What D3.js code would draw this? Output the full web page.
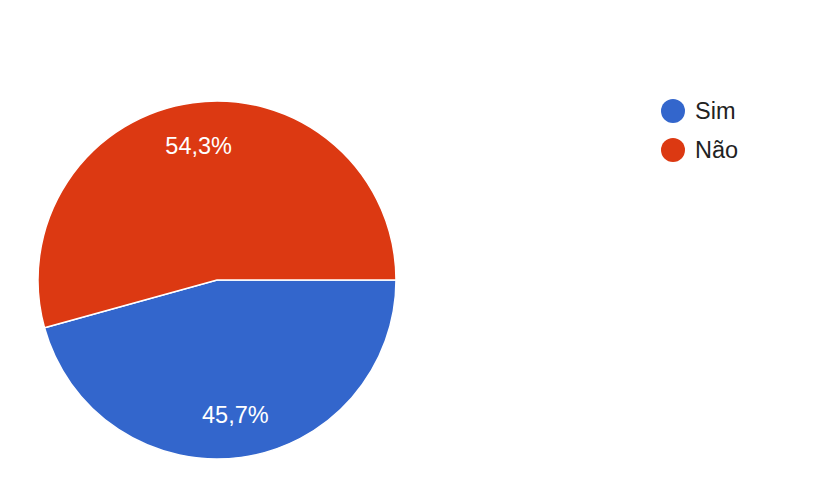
<!DOCTYPE html>
<html lang="pt">
<head>
    <meta charset="UTF-8">
    <title>Pie</title>
    <script src="https://d3js.org/d3.v7.min.js"></script>
    <style>
        body { margin: 0; background: #fff; }
        svg { display: block; font-family: "Liberation Sans", Arial, sans-serif; }
    </style>
</head>
<body>
    <div id="chart"></div>
    <script>
        // Data
        const categories = ["Sim", "Não"];
        const values = [45.7, 54.3];
        const colors = ["#3366cc", "#dc3912"];

        const width = 833, height = 499;
        const cx = 217, cy = 280, radius = 179;

        const svg = d3.select("#chart")
            .append("svg")
            .attr("width", width)
            .attr("height", height);

        const color = d3.scaleOrdinal().domain(categories).range(colors);

        const pie = d3.pie()
            .sort(null)
            .startAngle(Math.PI / 2)
            .endAngle(Math.PI / 2 + 2 * Math.PI)
            .value(d => d.value);

        const data = categories.map((c, i) => ({ name: c, value: values[i] }));

        const arc = d3.arc().innerRadius(0).outerRadius(radius);
        const labelArc = d3.arc().innerRadius(136).outerRadius(136);

        const g = svg.append("g").attr("transform", `translate(${cx},${cy})`);

        const arcs = g.selectAll(".arc")
            .data(pie(data))
            .enter()
            .append("g")
            .attr("class", "arc");

        arcs.append("path")
            .attr("d", arc)
            .attr("fill", d => color(d.data.name))
            .attr("stroke", "#fff")
            .attr("stroke-width", 1.5);

        arcs.append("text")
            .attr("transform", d => `translate(${labelArc.centroid(d)})`)
            .attr("dy", "0.36em")
            .attr("text-anchor", "middle")
            .attr("fill", "#fff")
            .style("font-size", "23.5px")
            .text(d => d.data.value.toFixed(1).replace(".", ",") + "%");

        // Legend
        const legend = svg.selectAll(".legend")
            .data(categories)
            .enter()
            .append("g")
            .attr("class", "legend")
            .attr("transform", (d, i) => `translate(673,${111 + i * 39})`);

        legend.append("circle")
            .attr("r", 12)
            .attr("fill", d => color(d));

        legend.append("text")
            .attr("x", 22)
            .attr("dy", "0.36em")
            .attr("fill", "#222")
            .style("font-size", "23.5px")
            .text(d => d);
    </script>
</body>
</html>
